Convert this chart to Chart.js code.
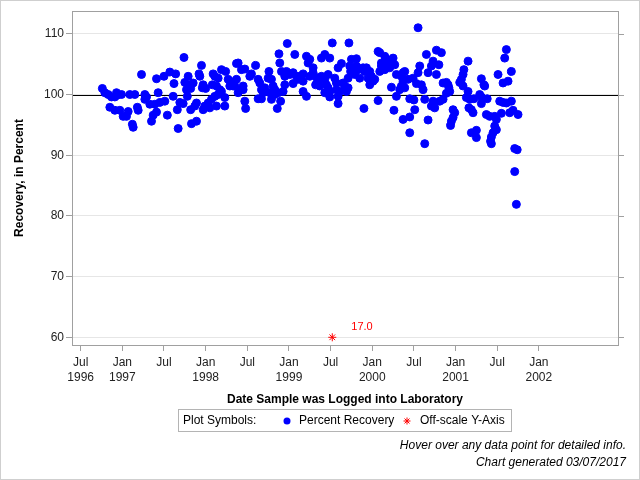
<!DOCTYPE html>
<html>
<head>
<meta charset="utf-8">
<title>Recovery, in Percent</title>
<script src="https://cdn.jsdelivr.net/npm/chart.js@4.4.1/dist/chart.umd.min.js"></script>
<style>
html, body { margin: 0; padding: 0; background: #fff; }
#wrap { width: 640px; height: 480px; }
</style>
</head>
<body>
<div id="wrap"><canvas id="recoveryChart" width="640" height="480"></canvas></div>
<script>
// sample dates as decimal years
var recoveryDates = [
	1996.76,1996.79,1996.83,1996.87,1996.93,1996.94,1996.99,1996.91,1997.09,1997.15,
	1997.23,1997.27,1997.29,1997.27,1997.41,1997.50,1997.57,1997.64,1997.62,1997.74,
	1997.79,1997.75,1997.81,1997.77,1997.82,1997.43,1997.61,1997.78,1997.33,1997.39,
	1997.45,1997.51,1997.69,1997.73,1996.85,1996.91,1996.97,1997.07,1997.01,1997.05,
	1997.18,1997.19,1997.37,1997.41,1997.54,1997.66,1997.82,1997.35,1997.12,1997.13,
	1997.67,1997.83,
	1997.85,1997.95,1997.92,1997.93,1997.97,1997.96,1998.00,1998.09,1998.11,1998.15,
	1998.19,1998.24,1998.08,1998.13,1998.17,1998.19,1998.15,1998.11,1998.07,1998.03,
	1997.99,1998.23,1998.23,1998.13,1998.05,1997.97,1997.89,1997.87,1997.89,1998.27,
	1998.31,1998.29,1998.33,1998.37,1998.39,1998.43,1998.47,1998.37,1998.35,1998.41,
	1998.45,1998.45,1998.39,1998.47,1998.48,1998.53,1998.55,1998.60,1998.63,1998.65,
	1998.67,1998.71,1998.69,1998.63,1998.67,1998.76,1998.75,1998.79,1998.81,1998.83,
	1998.77,1998.83,1998.87,1998.79,1998.90,1998.86,1998.88,1998.89,1998.91,1998.95,
	1998.97,1999.01,1999.05,1999.09,1998.98,1999.07,1998.95,1999.05,1998.93,
	1999.13,1999.17,1999.11,1999.17,1999.21,1999.25,1999.23,1999.39,1999.43,1999.49,
	1999.52,1999.72,1999.29,1999.29,1999.25,1999.33,1999.37,1999.35,1999.39,1999.43,
	1999.47,1999.32,1999.37,1999.45,1999.47,1999.49,1999.17,1999.21,1999.43,1999.49,
	1999.55,1999.57,1999.59,1999.63,1999.57,1999.61,1999.59,1999.59,1999.65,1999.67,
	1999.69,1999.71,1999.71,1999.74,1999.75,1999.81,1999.73,1999.77,1999.81,1999.83,
	1999.79,1999.85,1999.89,1999.91,1999.93,1999.97,1999.95,1999.99,2000.01,1999.97,
	2000.03,1999.90,2000.07,2000.07,2000.09,2000.15,2000.17,2000.25,2000.11,2000.13,
	2000.19,2000.23,2000.15,2000.21,2000.27,2000.09,2000.11,2000.29,2000.35,2000.23,
	2000.35,2000.37,2000.29,2000.26,2000.37,
	2000.55,2000.37,2000.39,2000.39,2000.33,2000.43,2000.49,2000.55,2000.57,2000.53,
	2000.59,2000.61,2000.65,2000.77,2000.83,2000.71,2000.73,2000.80,2000.67,2000.77,
	2000.45,2000.50,2000.63,2000.51,2000.45,2000.45,2000.67,2000.63,2000.73,2000.71,
	2000.75,2000.81,2000.85,2000.89,2000.92,2000.91,2000.85,2000.89,2000.93,2000.97,
	2000.99,2000.97,2000.95,2000.94,2001.05,2001.07,2001.09,2001.10,2001.09,2001.15,
	2001.15,2001.13,2001.17,2001.22,2001.16,2001.19,2001.21,2001.19,2001.25,2001.25,
	2001.29,2001.31,2001.31,2001.31,2001.34,2001.35,2001.38,2001.37,2001.41,2001.47,
	2001.49,2001.51,2001.47,2001.49,2001.45,2001.43,2001.42,2001.43,2001.53,2001.57,
	2001.57,2001.63,2001.61,2001.59,2001.67,2001.61,2001.67,2001.55,2001.65,2001.69,
	2001.75,2001.71,2001.74,2001.71,2001.73
];

var recoveryValues = [
	101.0,100.3,100.0,99.6,100.3,99.9,100.0,99.6,100.0,100.0,
	103.3,100.0,99.6,99.2,102.6,103.0,103.7,103.4,101.8,106.1,
	103.0,102.0,101.6,100.8,101.0,100.3,99.7,99.7,98.4,98.4,
	98.7,98.9,98.7,98.5,97.9,97.4,97.4,97.2,96.4,96.4,
	97.9,97.4,96.6,97.1,96.6,97.5,97.5,95.6,95.1,94.6,
	94.4,95.2,
	101.9,104.8,103.4,103.0,101.6,101.1,101.0,103.4,103.0,102.7,
	104.1,103.8,101.6,101.4,100.8,100.5,100.0,99.7,99.2,98.6,
	98.1,99.5,98.1,98.1,97.8,97.5,98.6,98.1,95.6,102.5,
	102.1,101.4,101.4,105.1,105.2,104.1,104.2,102.5,101.4,100.8,
	101.4,100.8,100.3,98.9,97.7,103.0,103.4,104.8,102.5,101.9,
	100.8,101.1,100.3,99.3,99.3,103.8,102.7,102.5,101.4,100.8,
	100.3,100.0,100.3,99.2,98.9,97.7,106.7,105.2,103.8,103.0,
	103.8,103.3,103.6,103.0,108.4,106.6,101.6,101.8,100.5,
	103.0,103.4,102.5,102.2,106.3,105.8,105.2,106.0,106.6,106.0,
	108.5,108.5,104.4,103.6,103.0,102.8,102.5,101.8,103.0,102.5,
	103.3,101.6,101.4,101.6,101.1,100.5,100.5,99.7,100.3,99.6,
	102.7,101.9,104.4,105.1,100.8,100.5,99.7,98.5,101.9,101.4,
	100.5,101.1,102.7,103.8,105.8,105.9,104.7,104.4,104.7,104.1,
	103.3,102.7,104.4,103.8,104.4,103.8,102.7,103.0,102.2,101.6,
	102.5,97.7,99.0,107.1,106.9,106.3,105.8,106.0,105.2,104.7,
	104.9,105.2,104.1,104.4,104.9,103.8,104.7,103.3,103.0,101.2,
	101.4,102.2,99.7,97.4,95.9,
	111.0,103.6,103.8,101.1,100.8,102.5,102.7,103.6,104.7,101.8,
	101.6,100.8,106.6,107.3,106.9,104.7,105.5,104.9,103.6,103.3,
	99.3,99.1,99.2,97.5,96.3,93.7,95.8,91.9,98.9,98.1,
	97.8,98.9,99.2,100.2,101.1,101.6,101.9,102.0,100.5,97.5,
	97.0,96.2,95.6,94.9,102.0,102.5,103.3,104.1,101.4,100.5,
	105.5,99.5,99.2,99.3,97.8,97.5,97.0,93.7,94.1,92.9,
	100.0,99.6,98.5,102.6,101.6,101.4,99.3,96.7,96.4,96.4,
	95.9,103.3,94.8,94.2,93.7,93.0,92.3,91.9,98.9,98.7,
	101.9,102.2,107.4,106.0,103.8,98.6,98.9,96.9,97.0,97.4,
	96.7,91.1,90.9,87.3,81.9
];

// values below the axis floor, drawn at the floor with their real value
var offscaleDates  = [1999.52];
var offscaleValues = [17.0];

var yTicks = [60, 70, 80, 90, 100, 110];
var xTickValues = [1996.5, 1997.0, 1997.5, 1998.0, 1998.5, 1999.0, 1999.5, 2000.0, 2000.5, 2001.0, 2001.5, 2002.0];
var xTickLabels = [
	['Jul', '1996'], ['Jan', '1997'], ['Jul'], ['Jan', '1998'], ['Jul'], ['Jan', '1999'],
	['Jul'], ['Jan', '2000'], ['Jul'], ['Jan', '2001'], ['Jul'], ['Jan', '2002']
];

var fontFamily = '"Liberation Sans", Arial, Helvetica, sans-serif';
var blue = '#0000ff';
var red = '#ff0000';

var recoveryPoints = recoveryDates.map(function(d, i){ return {x: d, y: recoveryValues[i]}; });
var offscalePoints = offscaleDates.map(function(d){ return {x: d, y: yTicks[0]}; });

function monthText(x){
	var months = ['Jan','Feb','Mar','Apr','May','Jun','Jul','Aug','Sep','Oct','Nov','Dec'];
	var yr = Math.floor(x);
	var m = Math.min(11, Math.floor((x - yr) * 12));
	return months[m] + ' ' + yr;
}

var decorPlugin = {
	id: 'decor',
	beforeDatasetsDraw: function(chart){
		var ctx = chart.ctx, a = chart.chartArea;
		var y100 = Math.round(chart.scales.y.getPixelForValue(100)) + 0.5;
		ctx.save();
		ctx.strokeStyle = '#000';
		ctx.lineWidth = 1;
		ctx.beginPath();
		ctx.moveTo(a.left, y100);
		ctx.lineTo(a.right, y100);
		ctx.stroke();
		ctx.restore();
	},
	afterDraw: function(chart){
		var ctx = chart.ctx, a = chart.chartArea, ys = chart.scales.y;
		ctx.save();

		// plot frame and right-hand tick marks
		ctx.strokeStyle = '#a0a0a0';
		ctx.lineWidth = 1;
		ctx.strokeRect(a.left + 0.5, a.top + 0.5, a.right - a.left, a.bottom - a.top);
		ctx.beginPath();
		yTicks.forEach(function(v){
			var py = Math.round(ys.getPixelForValue(v)) + 0.5;
			ctx.moveTo(a.right, py);
			ctx.lineTo(a.right + 6, py);
		});
		ctx.stroke();

		// value label next to off-scale marks
		var meta = chart.getDatasetMeta(1);
		ctx.fillStyle = red;
		ctx.font = '11px ' + fontFamily;
		ctx.textAlign = 'left';
		ctx.textBaseline = 'middle';
		meta.data.forEach(function(pt, i){
			ctx.fillText(offscaleValues[i].toFixed(1), pt.x + 19, pt.y - 10);
		});

		// legend box
		ctx.strokeStyle = '#b4b4b4';
		ctx.strokeRect(178.5, 409.5, 333, 22);
		ctx.font = '12px ' + fontFamily;
		ctx.fillStyle = '#000';
		ctx.fillText('Plot Symbols:', 183, 421);
		ctx.fillText('Percent Recovery', 299, 421);
		ctx.fillText('Off-scale Y-Axis', 420, 421);
		ctx.fillStyle = blue;
		ctx.beginPath();
		ctx.arc(287, 421, 3.5, 0, Math.PI * 2);
		ctx.fill();
		ctx.strokeStyle = red;
		ctx.lineWidth = 1;
		Chart.helpers.drawPoint(ctx, {pointStyle: 'star', radius: 3.5, rotation: 0, borderWidth: 1}, 407, 421);

		// footnotes
		ctx.fillStyle = '#000';
		ctx.font = 'italic 12px ' + fontFamily;
		ctx.textAlign = 'right';
		ctx.fillText('Hover over any data point for detailed info.', 626, 446);
		ctx.fillText('Chart generated 03/07/2017', 626, 463);

		// outer border
		ctx.strokeStyle = '#cfcfcf';
		ctx.lineWidth = 1;
		ctx.strokeRect(0.5, 0.5, 639, 479);
		ctx.restore();
	}
};

var ctx = document.getElementById('recoveryChart').getContext('2d');
var recoveryChart = new Chart(ctx, {
	type: 'scatter',
	data: {
		datasets: [
			{
				label: 'Percent Recovery',
				data: recoveryPoints,
				backgroundColor: blue,
				borderColor: blue,
				pointRadius: 4,
				pointHoverRadius: 5,
				pointBorderWidth: 1
			},
			{
				label: 'Off-scale Y-Axis',
				data: offscalePoints,
				pointStyle: 'star',
				borderColor: red,
				backgroundColor: 'rgba(0,0,0,0)',
				pointRadius: 4,
				pointBorderWidth: 1,
				clip: false
			}
		]
	},
	options: {
		responsive: false,
		animation: false,
		devicePixelRatio: 1,
		layout: {
			autoPadding: false,
			padding: {left: 0, right: 22, top: 11, bottom: 70}
		},
		scales: {
			x: {
				type: 'linear',
				min: 1996.3956,
				max: 2002.95,
				afterFit: function(scale){ scale.height = 65; },
				afterBuildTicks: function(scale){
					scale.ticks = xTickValues.map(function(v){ return {value: v}; });
				},
				ticks: {
					autoSkip: false,
					maxRotation: 0,
					padding: 4,
					color: '#222',
					font: {family: fontFamily, size: 12, lineHeight: 1.25},
					callback: function(value, index){ return xTickLabels[index]; }
				},
				grid: {drawOnChartArea: false, tickLength: 6, color: '#a0a0a0'},
				border: {display: false},
				title: {
					display: true,
					text: 'Date Sample was Logged into Laboratory',
					color: '#000',
					font: {family: fontFamily, size: 12, weight: 'bold'},
					padding: {top: 0, bottom: 3}
				}
			},
			y: {
				min: 58.73,
				max: 113.76,
				afterFit: function(scale){ scale.width = 72; },
				afterBuildTicks: function(scale){
					scale.ticks = yTicks.map(function(v){ return {value: v}; });
				},
				ticks: {
					padding: 2,
					color: '#222',
					font: {family: fontFamily, size: 12}
				},
				grid: {color: '#e6e6e6', tickColor: '#a0a0a0', tickLength: 6},
				border: {display: false},
				title: {
					display: true,
					text: 'Recovery, in Percent',
					color: '#000',
					font: {family: fontFamily, size: 12, weight: 'bold'},
					padding: {top: 12, bottom: 0}
				}
			}
		},
		plugins: {
			legend: {display: false},
			tooltip: {
				callbacks: {
					title: function(items){ return monthText(items[0].parsed.x); },
					label: function(item){
						if(item.datasetIndex === 1){
							return 'Off-scale recovery: ' + offscaleValues[item.dataIndex].toFixed(1) + '%';
						}
						return 'Recovery: ' + item.parsed.y.toFixed(1) + '%';
					}
				}
			}
		}
	},
	plugins: [decorPlugin]
});
</script>
</body>
</html>
